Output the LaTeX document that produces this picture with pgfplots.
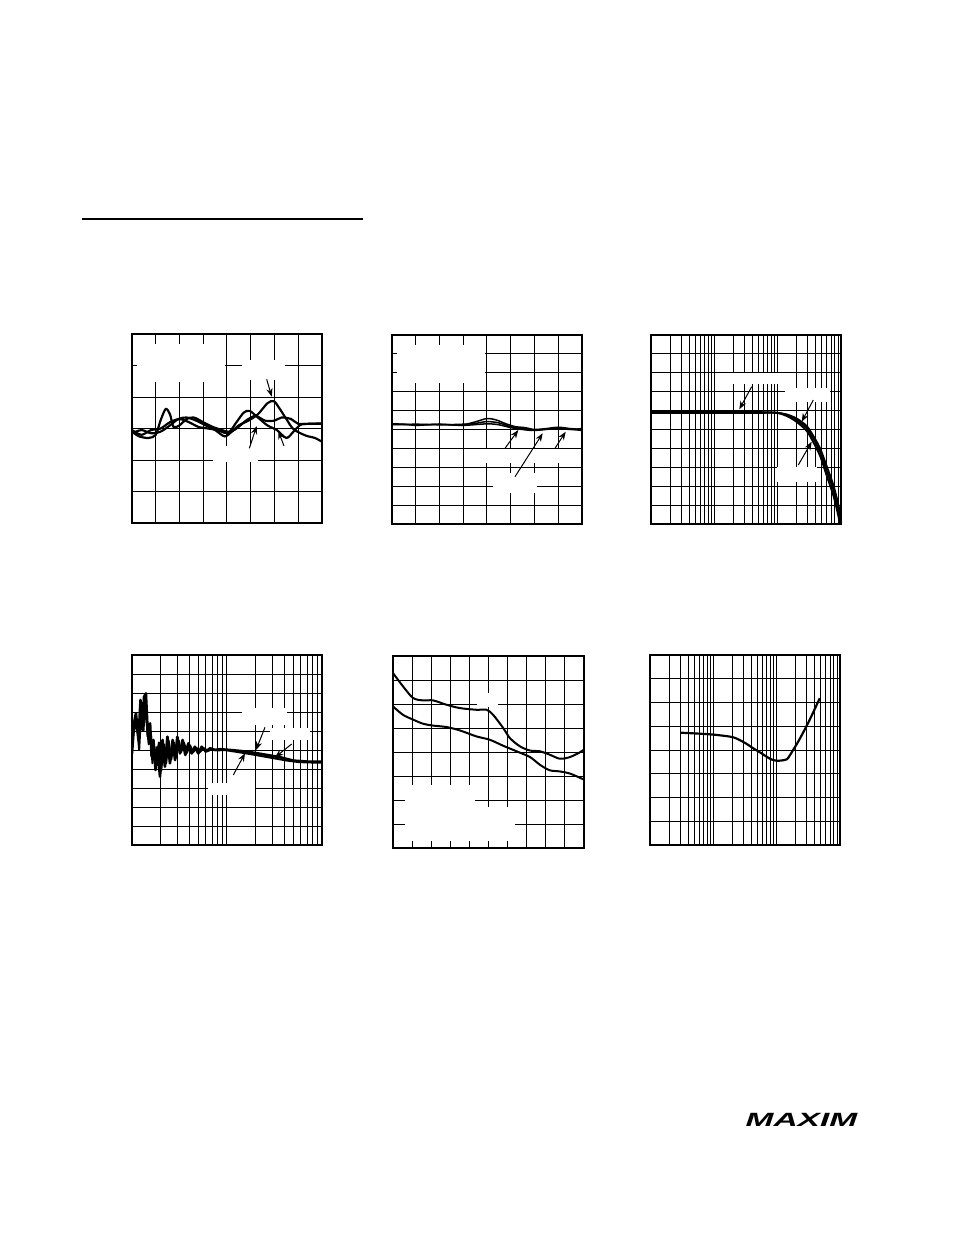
\documentclass[border=0pt]{standalone}
\usepackage{fontspec}
\setmainfont{Liberation Sans}
\usepackage{pgfplots}
\pgfplotsset{compat=1.18}
\usetikzlibrary{arrows.meta}
\pgfplotsset{
  panel/.style={scale only axis, xticklabels={}, yticklabels={},
    major tick length=0pt, minor tick length=0pt,
    grid=both, grid style={black, line width=0.6pt},
    minor grid style={black, line width=0.6pt},
    axis line style={line width=1.5pt}, clip=true},
  curve/.style={black, line width=1.3pt, smooth, tension=0.5, no marks},
}
\begin{document}
\begin{tikzpicture}[x=0.6pt,y=-0.6pt]
\path[use as bounding box] (0,0) rectangle (954,1235);
\draw[line width=0.9pt] (82,219) -- (363,219);

% ---------- Panel 1 ----------
\begin{axis}[panel, at={(79.2pt,-313.8pt)}, anchor=south west, width=114pt, height=113.4pt,
  xmin=0, xmax=8, ymin=-3, ymax=3, xtick={0,...,8}, ytick={-3,...,3}]
\addplot[curve] coordinates {(0,-0.1)(0.3,-0.25)(0.7,-0.3)(1.0,-0.2)(1.2,0.25)(1.42,0.62)(1.6,0.45)(1.75,0.05)(2.0,0.1)(2.3,0.3)(2.6,0.35)(3.0,0.2)(3.4,0.05)(3.8,-0.05)(4.1,-0.1)(4.4,0.2)(4.7,0.5)(4.95,0.56)(5.3,0.35)(5.7,0.1)(6.1,-0.05)(6.5,-0.3)(6.8,-0.1)(7.1,0.12)(7.5,0.15)(8,0.16)};
\addplot[curve] coordinates {(0,-0.15)(0.4,-0.05)(0.8,-0.15)(1.2,-0.1)(1.6,0.1)(1.95,0.3)(2.3,0.35)(2.7,0.25)(3.1,0.1)(3.5,-0.05)(3.9,-0.25)(4.2,-0.1)(4.5,0.1)(4.9,0.25)(5.3,0.45)(5.7,0.8)(5.97,0.87)(6.2,0.65)(6.5,0.3)(6.8,-0.02)(7.3,-0.22)(7.7,-0.3)(8,-0.42)};
\addplot[curve] coordinates {(0,-0.05)(0.4,-0.2)(0.8,-0.05)(1.2,0.0)(1.6,0.2)(2.0,0.3)(2.4,0.2)(2.8,0.05)(3.2,0.0)(3.6,-0.05)(4.0,-0.15)(4.4,0.0)(4.8,0.25)(5.2,0.4)(5.6,0.25)(6.0,0.25)(6.3,0.35)(6.7,0.3)(7.0,0.15)(7.5,0.15)(8,0.15)};
\end{axis}
\fill[white] (137,344) rectangle (225,382);
\fill[white] (242,360) rectangle (285,380);
\fill[white] (213,446) rectangle (258,462);
\draw[-{Stealth[length=5pt]}, line width=0.6pt] (266.7,379.3) -- (271.7,396.7);
\draw[-{Stealth[length=5pt]}, line width=0.6pt] (249.3,448.3) -- (256.7,426);
\draw[-{Stealth[length=5pt]}, line width=0.6pt] (284,446) -- (278.3,431);

% ---------- Panel 2 ----------
\begin{axis}[panel, at={(235.2pt,-314.4pt)}, anchor=south west, width=114pt, height=113.4pt,
  xmin=0, xmax=8, ymin=0, ymax=10, xtick={0,...,8}, ytick={0,...,10}]
\addplot[curve, line width=0.9pt] coordinates {(0,5.3)(0.5,5.28)(1,5.22)(1.5,5.25)(2,5.28)(2.5,5.25)(3,5.25)(3.5,5.4)(4,5.58)(4.4,5.5)(4.8,5.3)(5.2,5.15)(5.6,5.1)(6,5.0)(6.5,5.05)(7,5.12)(7.5,5.05)(8,5.0)};
\addplot[curve, line width=0.9pt] coordinates {(0,5.25)(1,5.28)(2,5.25)(3,5.28)(3.5,5.32)(4,5.42)(4.5,5.35)(5,5.15)(5.5,5.05)(6,4.98)(6.5,5.02)(7,5.08)(7.5,5.0)(8,5.05)};
\addplot[curve, line width=0.9pt] coordinates {(0,5.28)(1,5.25)(2,5.27)(3,5.22)(4,5.3)(4.5,5.25)(5,5.1)(5.5,5.0)(6,4.95)(7,5.05)(8,4.95)};
\end{axis}
\fill[white] (397,345) rectangle (485,383);
\fill[white] (464,449) rectangle (580.5,463);
\fill[white] (493,473) rectangle (537,493);
\draw[-{Stealth[length=5pt]}, line width=0.6pt] (505,448.3) -- (518.3,430);
\draw[-{Stealth[length=5pt]}, line width=0.6pt] (515,476.7) -- (542.7,433.3);
\draw[-{Stealth[length=5pt]}, line width=0.6pt] (555,448.3) -- (565.7,431.7);

% ---------- Panel 3 ----------
\begin{axis}[panel, xmode=log, xmin=1, xmax=1000, xtick={1,10,100,1000},
  minor xtick={2,3,4,5,6,7,8,9,20,30,40,50,60,70,80,90,200,300,400,500,600,700,800,900},
  at={(390.6pt,-314.4pt)}, anchor=south west, width=114pt, height=113.4pt,
  ymin=0, ymax=10, ytick={0,...,10}]
\addplot[curve, line width=1.1pt] coordinates {(1,5.9)(10,5.9)(50,5.9)(95.5,5.89)(138,5.77)(200,5.5)(288,5.06)(363,4.53)(468,3.83)(589,2.86)(759,1.8)(912,0.74)(1000,0)};
\addplot[curve, line width=1.1pt] coordinates {(1,5.92)(10,5.92)(50,5.92)(95.5,5.88)(138,5.72)(200,5.4)(288,4.92)(363,4.35)(468,3.6)(589,2.6)(759,1.5)(912,0.4)(1000,-0.3)};
\addplot[curve, line width=1.1pt] coordinates {(1,5.88)(10,5.88)(50,5.88)(95.5,5.88)(138,5.8)(200,5.58)(288,5.18)(363,4.68)(468,4.0)(589,3.1)(759,2.05)(912,1.0)(1000,0.2)};
\end{axis}
\fill[white] (733,373) rectangle (778,384);
\fill[white] (785,388) rectangle (830,402);
\fill[white] (777,467) rectangle (817,482);
\draw[-{Stealth[length=5pt]}, line width=0.6pt] (751.7,386.7) -- (739.3,409.3);
\draw[-{Stealth[length=5pt]}, line width=0.6pt] (813.3,400) -- (801.7,421.7);
\draw[-{Stealth[length=5pt]}, line width=0.6pt] (798.3,465) -- (811.7,441.7);

% ---------- Panel 4 ----------
\begin{axis}[panel, xmode=log, xmin=1, xmax=100, xtick={1,10,100},
  minor xtick={2,3,4,5,6,7,8,9,20,30,40,50,60,70,80,90},
  at={(79.2pt,-507pt)}, anchor=south west, width=114pt, height=114pt,
  ymin=0, ymax=10, ytick={0,...,10}]
\addplot[black, line width=1.6pt, line join=round, no marks] coordinates {(1,4.82)(1.05,6.4)(1.10,6.93)(1.17,5.53)(1.23,7.63)(1.29,6.05)(1.34,7.8)(1.40,7.98)(1.47,5.7)(1.55,6.4)(1.61,4.65)(1.68,5.53)(1.77,3.95)(1.86,5.17)(1.97,3.6)(2.10,5.53)(2.22,4.12)(2.36,5.7)(2.51,4.3)(2.68,5.53)(2.84,4.47)(3.00,5.7)(3.20,4.82)(3.41,5.53)(3.64,4.74)(3.92,5.35)(4.25,4.82)(4.60,5.17)(4.99,4.82)(5.41,5.17)(6.01,4.91)(6.62,5.09)(7.48,5.0)(8.43,5.04)(10.8,5.0)(13.7,4.95)(18.9,4.86)(26.2,4.74)(36.1,4.62)(49.9,4.44)(69.0,4.39)(100,4.39)};
\addplot[black, line width=1.2pt, line join=round, no marks] coordinates {(1,5.3)(1.04,5.9)(1.12,6.5)(1.19,5.0)(1.25,7.1)(1.32,6.0)(1.38,7.5)(1.44,6.2)(1.50,5.3)(1.58,5.9)(1.64,4.3)(1.72,5.2)(1.82,4.2)(1.92,5.4)(2.03,3.9)(2.16,5.3)(2.29,4.3)(2.43,5.5)(2.59,4.5)(2.76,5.4)(2.92,4.6)(3.10,5.5)(3.30,4.9)(3.52,5.4)(3.78,4.85)(4.08,5.25)(4.42,4.9)(4.80,5.1)(5.20,4.9)(5.70,5.1)(6.30,4.95)(7.0,5.05)(8.0,4.98)(9.5,5.0)(12.0,4.92)(16.0,4.82)(22.0,4.7)(30.0,4.58)(42.0,4.45)(58.0,4.36)(80.0,4.34)(100,4.34)};
\end{axis}
\fill[white] (242,708) rectangle (287,725);
\fill[white] (270,728) rectangle (310,740);
\fill[white] (208,783) rectangle (255,795);
\draw[-{Stealth[length=5pt]}, line width=0.6pt] (265,727.3) -- (256,750);
\draw[-{Stealth[length=5pt]}, line width=0.6pt] (291.7,744) -- (275,757.3);
\draw[-{Stealth[length=5pt]}, line width=0.6pt] (233.3,775) -- (245,753.3);

% ---------- Panel 5 ----------
\begin{axis}[panel, at={(235.8pt,-508.8pt)}, anchor=south west, width=114.6pt, height=115.2pt,
  xmin=0, xmax=10, ymin=0, ymax=8, xtick={0,...,10}, ytick={0,...,8}]
\addplot[curve, line width=1.2pt] coordinates {(0,7.29)(0.52,6.74)(1.05,6.25)(1.57,6.15)(2.1,6.15)(2.8,5.97)(3.5,5.83)(4.37,5.76)(4.9,5.76)(5.24,5.55)(5.77,5.0)(6.12,4.58)(6.64,4.24)(7.17,4.06)(7.69,4.03)(8.2,3.89)(8.74,3.72)(9.27,3.79)(9.79,3.99)(10,4.1)};
\addplot[curve, line width=1.2pt] coordinates {(0,5.9)(0.52,5.55)(1.05,5.35)(1.57,5.18)(2.1,5.1)(2.8,5.04)(3.5,4.9)(4.37,4.65)(5.07,4.51)(5.77,4.26)(6.47,4.03)(7.17,3.79)(7.69,3.47)(8.2,3.24)(8.74,3.19)(9.27,3.1)(10,2.85)};
\end{axis}
\fill[white] (477,693) rectangle (498,707);
\fill[white] (405,785) rectangle (475,841);
\fill[white] (475,807) rectangle (515,841);

% ---------- Panel 6 ----------
\begin{axis}[panel, xmode=log, xmin=1, xmax=1000, xtick={1,10,100,1000},
  minor xtick={2,3,4,5,6,7,8,9,20,30,40,50,60,70,80,90,200,300,400,500,600,700,800,900},
  at={(390pt,-507pt)}, anchor=south west, width=114pt, height=114pt,
  ymin=0, ymax=8, ytick={0,...,8}]
\addplot[curve, line width=1.3pt] coordinates {(3.05,4.73)(7.85,4.67)(12.6,4.62)(20.9,4.53)(31.6,4.3)(42.7,4.07)(56.2,3.88)(69.2,3.72)(83.2,3.6)(100,3.55)(120,3.56)(145,3.61)(162,3.78)(182,4.0)(224,4.4)(302,5.05)(380,5.6)(479,6.18)};
\end{axis}

% ---------- logo ----------
\node[anchor=west, xscale=1.75, inner sep=0pt] at (745,1120) {\fontsize{11.5}{11.5}\selectfont\bfseries\itshape MAXIM};
\end{tikzpicture}
\end{document}
